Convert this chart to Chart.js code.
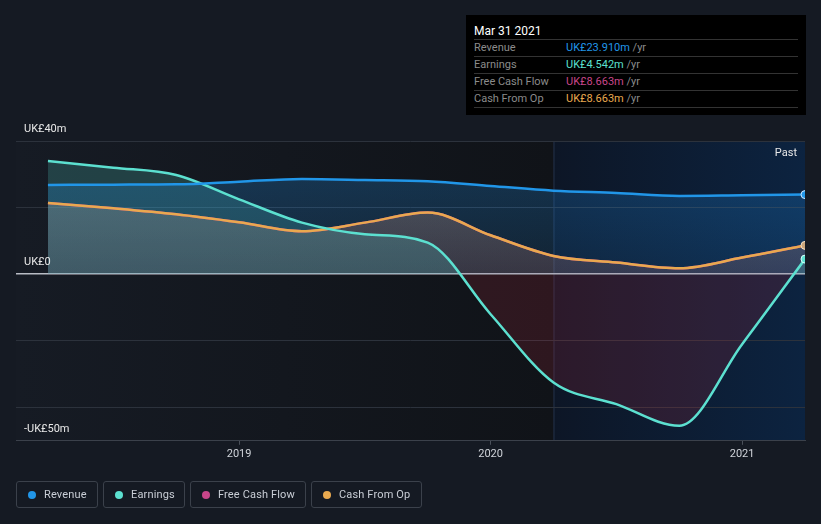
<!DOCTYPE html>
<html>
<head>
<meta charset="utf-8">
<script src="https://cdn.jsdelivr.net/npm/chart.js@4"></script>
<style>
  html, body { margin: 0; padding: 0; background: #151a23; }
  body { width: 821px; height: 524px; position: relative; overflow: hidden; font-family: Roboto, "Open Sans", sans-serif; }
  #wrap { position: absolute; left: 0; top: 0; width: 821px; height: 524px; }
  #tip { position: absolute; left: 466px; top: 15px; width: 340px; height: 100px; background: #000; box-sizing: border-box; padding: 0 8px; }
  #tip .title { color: #fff; font-size: 12px; height: 24px; line-height: 32px; border-bottom: 1px solid #333; }
  #tip .row { height: 16px; line-height: 16px; font-size: 11px; border-bottom: 1px solid #333; color: #8b8b8b; display: flex; }
  #tip .row span.l { width: 92px; }
  #legend { position: absolute; left: 16px; top: 481px; display: flex; gap: 5px; }
  .lg { border: 1px solid #3b414b; border-radius: 3px; height: 27px; box-sizing: border-box; padding: 0 0 0 11px; display: flex; align-items: center; color: #c9ced6; font-size: 11px; letter-spacing: 0.15px; }
  .lg i { width: 8px; height: 8px; border-radius: 50%; display: inline-block; margin-right: 8px; }
</style>
</head>
<body>
<div id="wrap"><canvas id="myChart" width="821" height="524"></canvas></div>
<div id="tip">
  <div class="title">Mar 31 2021</div>
  <div class="row"><span class="l">Revenue</span><span style="color:#2196e8">UK£23.910m</span>&nbsp;/yr</div>
  <div class="row"><span class="l">Earnings</span><span style="color:#5ce0d0">UK£4.542m</span>&nbsp;/yr</div>
  <div class="row"><span class="l">Free Cash Flow</span><span style="color:#c8468a">UK£8.663m</span>&nbsp;/yr</div>
  <div class="row"><span class="l">Cash From Op</span><span style="color:#e9a94f">UK£8.663m</span>&nbsp;/yr</div>
</div>
<div id="legend">
  <div class="lg" style="width:82px"><i style="background:#2196e8"></i>Revenue</div>
  <div class="lg" style="width:82px"><i style="background:#5ce0d0"></i>Earnings</div>
  <div class="lg" style="width:116px"><i style="background:#c8468a"></i>Free Cash Flow</div>
  <div class="lg" style="width:111px"><i style="background:#e9a94f"></i>Cash From Op</div>
</div>
<script>
// dữ liệu theo quý (năm thập phân), đơn vị triệu bảng
const periods = [2018.24, 2018.5, 2018.75, 2019.0, 2019.25, 2019.5, 2019.75, 2020.0, 2020.25, 2020.5, 2020.75, 2021.0, 2021.25];
const revenue = [26.8, 26.9, 27.0, 27.8, 28.6, 28.3, 27.9, 26.5, 25.1, 24.4, 23.5, 23.7, 23.91];
const earnings = [34.0, 32.0, 29.8, 22.5, 15.5, 12.0, 9.5, -12.0, -32.5, -39.0, -45.5, -21.0, 4.542];
const freeCashFlow = [21.4, 19.8, 18.0, 15.6, 12.9, 15.5, 18.5, 11.7, 5.5, 3.5, 1.8, 5.0, 8.663];
const cashFromOp = [21.4, 19.8, 18.0, 15.6, 12.9, 15.5, 18.5, 11.7, 5.5, 3.5, 1.8, 5.0, 8.663];
const yearTicks = [2019, 2020, 2021];
const yLabels = [[40, 'UK£40m'], [0, 'UK£0'], [-50, '-UK£50m']];
const pastStart = 2020.25;

const ctx = document.getElementById('myChart');
const pts = arr => arr.map((v, i) => ({ x: periods[i], y: v }));
const lastOnly = r => periods.map((_, i) => i === periods.length - 1 ? r : 0);

function grad(rgb, a1, a2) {
  return c => {
    const area = c.chart.chartArea;
    if (!area) return 'rgba(' + rgb + ',' + a1 + ')';
    const y0 = c.chart.scales.y.getPixelForValue(0);
    const g = c.chart.ctx.createLinearGradient(0, area.top, 0, y0);
    g.addColorStop(0, 'rgba(' + rgb + ',' + a1 + ')');
    g.addColorStop(1, 'rgba(' + rgb + ',' + a2 + ')');
    return g;
  };
}

const bgPlugin = {
  id: 'bg',
  beforeDraw(chart) {
    const { ctx: c, chartArea: a, scales } = chart;
    c.save();
    const px = scales.x.getPixelForValue(pastStart);
    const g0 = c.createLinearGradient(a.left, 0, px, 0);
    g0.addColorStop(0, '#161b24');
    g0.addColorStop(1, '#101318');
    c.fillStyle = g0;
    c.fillRect(a.left, a.top, px - a.left, a.bottom - a.top);
    const g = c.createLinearGradient(px, 0, a.right, 0);
    g.addColorStop(0, '#0d1626');
    g.addColorStop(1, '#0c2340');
    c.fillStyle = g;
    c.fillRect(px, a.top, a.right - px, a.bottom - a.top);
    c.strokeStyle = 'rgba(60,80,110,0.5)';
    c.beginPath(); c.moveTo(px + 0.5, a.top); c.lineTo(px + 0.5, a.bottom); c.stroke();
    c.restore();
  },
  afterDraw(chart) {
    const { ctx: c, chartArea: a, scales } = chart;
    c.save();
    c.font = '11px Roboto, sans-serif';
    c.fillStyle = '#e8e8e8';
    c.textBaseline = 'middle';
    yLabels.forEach(([v, t]) => {
      c.fillText(t, 24, scales.y.getPixelForValue(v) - 12);
    });
    c.textAlign = 'right';
    c.fillText('Past', a.right - 8, a.top + 12);
    c.restore();
  }
};

new Chart(ctx, {
  type: 'line',
  data: {
    datasets: [
      {
        label: 'Revenue', data: pts(revenue), order: 0,
        borderColor: '#2196e8', borderWidth: 2.5, tension: 0.4, cubicInterpolationMode: 'monotone',
        fill: 'origin', backgroundColor: grad('33,150,243', 0.28, 0.12),
        pointRadius: lastOnly(4), pointBackgroundColor: '#2196e8', pointBorderColor: '#cfe8ff', pointBorderWidth: 1
      },
      {
        label: 'Earnings', data: pts(earnings), order: 1,
        borderColor: '#5ce0d0', borderWidth: 2.5, tension: 0.4, cubicInterpolationMode: 'monotone',
        fill: { target: 'origin', above: 'rgba(92,224,208,0.2)', below: 'rgba(170,40,60,0.2)' },
        pointRadius: lastOnly(4), pointBackgroundColor: '#5ce0d0', pointBorderColor: '#d8fffa', pointBorderWidth: 1
      },
      {
        label: 'Free Cash Flow', data: pts(freeCashFlow), order: 3,
        borderColor: '#c8468a', borderWidth: 2.5, tension: 0.4, cubicInterpolationMode: 'monotone',
        fill: 'origin', backgroundColor: 'rgba(200,70,138,0.12)', pointRadius: 0
      },
      {
        label: 'Cash From Op', data: pts(cashFromOp), order: 2,
        borderColor: '#e9a94f', borderWidth: 2.5, tension: 0.4, cubicInterpolationMode: 'monotone',
        fill: 'origin', backgroundColor: grad('233,169,79', 0.32, 0.1),
        pointRadius: lastOnly(4), pointBackgroundColor: '#c9a57c', pointBorderColor: '#f2dfc6', pointBorderWidth: 1
      }
    ]
  },
  options: {
    responsive: false,
    animation: false,
    events: [],
    layout: { padding: { left: 16, right: 16, top: 141, bottom: 60 } },
    plugins: { legend: { display: false }, tooltip: { enabled: false }, filler: { drawTime: 'beforeDatasetsDraw' } },
    scales: {
      x: {
        type: 'linear', min: 2018.113, max: 2021.25,
        afterBuildTicks: s => { s.ticks = yearTicks.map(v => ({ value: v })); },
        ticks: { color: '#d0d4da', font: { size: 11, family: 'Roboto' }, padding: 3, callback: v => String(v) },
        grid: { display: true, drawOnChartArea: false, tickLength: 4, color: '#4a505a' },
        border: { display: true, color: '#3b414b', width: 1 }
      },
      y: {
        min: -50, max: 40,
        afterBuildTicks: s => { s.ticks = [-40, -20, 0, 20, 40].map(v => ({ value: v })); },
        ticks: { display: false },
        grid: { drawTicks: false, color: c => c.tick.value === 0 ? '#b8bcc4' : '#2c323c', lineWidth: c => c.tick.value === 0 ? 1.5 : 1 },
        border: { display: false }
      }
    }
  },
  plugins: [bgPlugin]
});
</script>
</body>
</html>
